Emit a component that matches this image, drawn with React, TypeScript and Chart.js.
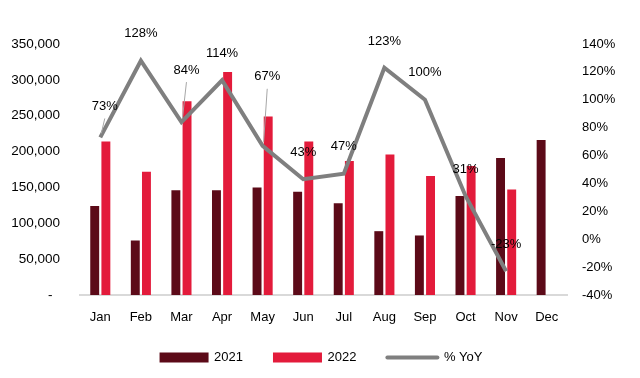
import React, { useEffect, useRef } from "react";
import { Chart, registerables } from "chart.js";

Chart.register(...registerables);

const FONT = '"Liberation Sans", Arial, Helvetica, sans-serif';

const months = ["Jan", "Feb", "Mar", "Apr", "May", "Jun", "Jul", "Aug", "Sep", "Oct", "Nov", "Dec"];
const sales2021 = [124000, 76000, 146000, 146000, 150000, 144000, 128000, 89000, 83000, 138000, 191000, 216000];
const sales2022 = [214000, 172000, 270000, 311000, 249000, 214000, 187000, 196000, 166000, 180000, 147000, null];
const yoyPct = [73, 128, 84, 114, 67, 43, 47, 123, 100, 31, -23, null];

// label placement (style only): [dx, dy, leader line?]
const labelOffsets: [number, number, boolean][] = [
  [4.5, -31, true],
  [0, -27, false],
  [5, -52, true],
  [0, -27, false],
  [4.6, -69, true],
  [0, -27, false],
  [0, -27, false],
  [0, -26, false],
  [0, -27, false],
  [0, -27, false],
  [0, -27, false],
  [0, -27, false],
];

const COLOR_2021 = "#5C0A18";
const COLOR_2022 = "#E31B3B";
const COLOR_LINE = "#7F7F7F";

const dataLabelPlugin = {
  id: "yoyLabels",
  afterDatasetsDraw(chart: any) {
    const idx = chart.data.datasets.findIndex((d: any) => d.type === "line");
    if (idx < 0) return;
    const meta = chart.getDatasetMeta(idx);
    const data = chart.data.datasets[idx].data;
    const ctx = chart.ctx;
    ctx.save();
    ctx.font = `13px ${FONT}`;
    ctx.textAlign = "center";
    ctx.textBaseline = "middle";
    meta.data.forEach((pt: any, i: number) => {
      const v = data[i];
      if (v === null || v === undefined) return;
      const [dx, dy, leader] = labelOffsets[i] || [0, -27, false];
      const lx = pt.x + dx;
      const ly = pt.y + dy;
      if (leader) {
        ctx.strokeStyle = "#A6A6A6";
        ctx.lineWidth = 1;
        ctx.beginPath();
        ctx.moveTo(lx, ly + 12);
        ctx.lineTo(pt.x + 1, pt.y - 4);
        ctx.stroke();
      }
      ctx.fillStyle = "#000";
      ctx.fillText(`${v}%`, lx, ly);
    });
    ctx.restore();
  },
};

const legendPlugin = {
  id: "bottomLegend",
  afterDraw(chart: any) {
    const ctx = chart.ctx;
    ctx.save();
    ctx.font = `13px ${FONT}`;
    const items = chart.data.datasets.map((ds: any) => ({
      label: ds.label as string,
      isLine: ds.type === "line",
      color: ds.type === "line" ? ds.borderColor : ds.backgroundColor,
    }));
    const symW = (it: any) => (it.isLine ? 52 : 49);
    const textGap = 5.5;
    const itemGap = 30;
    const widths = items.map((it: any) => symW(it) + textGap + ctx.measureText(it.label).width);
    const total = widths.reduce((a: number, b: number) => a + b, 0) + itemGap * (items.length - 1);
    let x = chart.width / 2 + 1 - total / 2;
    const y = 357.5;
    items.forEach((it: any, i: number) => {
      const w = symW(it);
      if (it.isLine) {
        ctx.strokeStyle = it.color;
        ctx.lineWidth = 4;
        ctx.lineCap = "round";
        ctx.beginPath();
        ctx.moveTo(x + 1, y);
        ctx.lineTo(x + w - 1, y);
        ctx.stroke();
      } else {
        ctx.fillStyle = it.color;
        ctx.fillRect(x, y - 5, w, 10);
      }
      ctx.fillStyle = "#000";
      ctx.textAlign = "left";
      ctx.textBaseline = "middle";
      ctx.fillText(it.label, x + w + textGap, y);
      x += widths[i] + itemGap;
    });
    ctx.restore();
  },
};

export default function App() {
  const ref = useRef<HTMLCanvasElement>(null);
  useEffect(() => {
    document.body.style.margin = "0";
    Chart.defaults.font.family = FONT;
    Chart.defaults.color = "#000";
    const chart = new Chart(ref.current as HTMLCanvasElement, {
      type: "bar",
      data: {
        labels: months,
        datasets: [
          {
            type: "bar",
            label: "2021",
            data: sales2021 as any,
            backgroundColor: COLOR_2021,
            yAxisID: "y",
            order: 1,
            categoryPercentage: 0.55,
            barPercentage: 0.8,
          },
          {
            type: "bar",
            label: "2022",
            data: sales2022 as any,
            backgroundColor: COLOR_2022,
            yAxisID: "y",
            order: 1,
            categoryPercentage: 0.55,
            barPercentage: 0.8,
          },
          {
            type: "line",
            label: "% YoY",
            data: yoyPct as any,
            borderColor: COLOR_LINE,
            backgroundColor: COLOR_LINE,
            borderWidth: 4,
            pointRadius: 0,
            tension: 0,
            yAxisID: "y1",
            order: 0,
          } as any,
        ],
      },
      options: {
        animation: false,
        responsive: true,
        maintainAspectRatio: false,
        layout: { padding: { top: 44, bottom: 43, left: 0, right: 0 } },
        plugins: {
          legend: { display: false },
          tooltip: { enabled: false },
        },
        scales: {
          x: {
            grid: { display: false, drawTicks: false },
            border: { display: true, color: "#D9D9D9", width: 2 },
            ticks: { padding: 15, color: "#000", font: { size: 13 } },
            afterFit(s: any) {
              s.height = 40;
            },
          },
          y: {
            position: "left",
            min: 0,
            max: 350000,
            grid: { display: false, drawTicks: false },
            border: { display: false },
            ticks: {
              stepSize: 50000,
              padding: 20,
              color: "#000",
              font: { size: 13.5 },
              callback: (v: any) => (Number(v) === 0 ? "-  " : Number(v).toLocaleString("en-US")),
            },
            afterFit(s: any) {
              s.width = 80;
            },
          },
          y1: {
            position: "right",
            min: -40,
            max: 140,
            grid: { display: false, drawTicks: false },
            border: { display: false },
            ticks: {
              stepSize: 20,
              padding: 15,
              color: "#000",
              font: { size: 13 },
              callback: (v: any) => `${v}%`,
            },
            afterFit(s: any) {
              s.width = 73;
            },
          },
        },
      } as any,
      plugins: [dataLabelPlugin, legendPlugin],
    });
    return () => chart.destroy();
  }, []);
  return (
    <div style={{ width: 640, height: 378, position: "relative" }}>
      <canvas ref={ref} />
    </div>
  );
}
